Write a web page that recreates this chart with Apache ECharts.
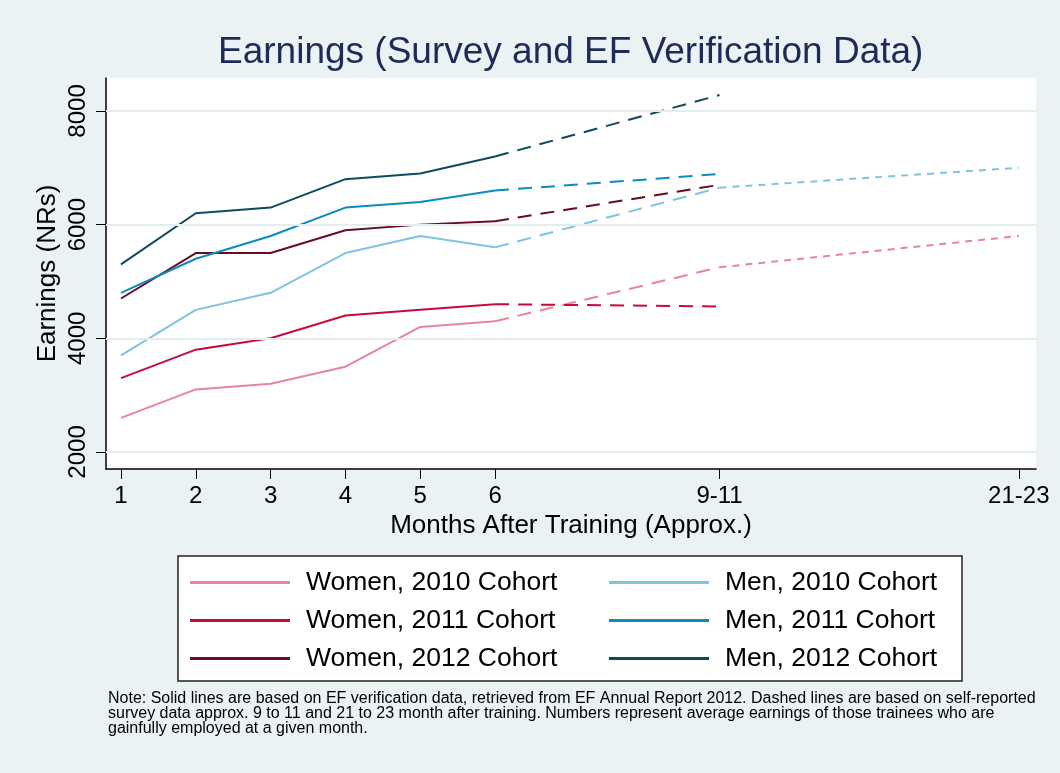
<!DOCTYPE html>
<html lang="en">
<head>
  <meta charset="UTF-8">
  <title>Earnings (Survey and EF Verification Data)</title>
  <script src="https://cdn.jsdelivr.net/npm/echarts@6.0.0/dist/echarts.min.js"></script>
  <style>
    html, body { margin: 0; padding: 0; background: #eaf2f3; }
    #chart { width: 1060px; height: 773px; }
  </style>
</head>
<body>
  <div id="chart"></div>
  <script>
    // months after training (EF verification data)
    const months = [1, 2, 3, 4, 5, 6];
    // survey rounds: 9-11 months and 21-23 months, placed at 9 and 13
    const surveyMonths = [9, 13];
    const xTickValues = [1, 2, 3, 4, 5, 6, 9, 13];
    const xTickLabels = ['1', '2', '3', '4', '5', '6', '9-11', '21-23'];
    const yTickValues = [2000, 4000, 6000, 8000];

    // solid parts (months 1..6)
    const women2010 = [2600, 3100, 3200, 3500, 4200, 4300];
    const women2011 = [3300, 3800, 4000, 4400, 4500, 4600];
    const women2012 = [4700, 5500, 5500, 5900, 6000, 6060];
    const men2010 = [3700, 4500, 4800, 5500, 5800, 5600];
    const men2011 = [4800, 5400, 5800, 6300, 6400, 6600];
    const men2012 = [5300, 6200, 6300, 6800, 6900, 7200];

    // survey values (dashed parts)
    const women2010Survey = [5250, 5800];
    const women2011Survey = [4560];
    const women2012Survey = [6700];
    const men2010Survey = [6650, 7000];
    const men2011Survey = [6890];
    const men2012Survey = [8280];

    const groups = [
      { name: 'Women, 2010 Cohort', color: '#e8849b', solid: women2010, survey: women2010Survey },
      { name: 'Women, 2011 Cohort', color: '#c80a3a', solid: women2011, survey: women2011Survey },
      { name: 'Women, 2012 Cohort', color: '#6a0a25', solid: women2012, survey: women2012Survey },
      { name: 'Men, 2010 Cohort', color: '#7ec4e1', solid: men2010, survey: men2010Survey },
      { name: 'Men, 2011 Cohort', color: '#0d8bc0', solid: men2011, survey: men2011Survey },
      { name: 'Men, 2012 Cohort', color: '#0e4a5f', solid: men2012, survey: men2012Survey }
    ];

    const font = "'Liberation Sans', Arial, Helvetica, sans-serif";

    const series = [];
    // background grid lines
    series.push({
      type: 'line',
      data: [],
      z: 1,
      silent: true,
      markLine: {
        silent: true,
        symbol: 'none',
        label: { show: false },
        lineStyle: { color: '#e3edf0', width: 2, type: 'solid' },
        data: yTickValues.map(v => ({ yAxis: v }))
      }
    });

    groups.forEach(g => {
      series.push({
        name: g.name,
        type: 'line',
        z: 3,
        symbol: 'none',
        color: g.color,
        lineStyle: { color: g.color, width: 2 },
        data: months.map((m, i) => [m, g.solid[i]])
      });
      // dashed: month 6 -> 9-11
      series.push({
        name: g.name + ' (survey)',
        type: 'line',
        z: 3,
        symbol: 'none',
        lineStyle: { color: g.color, width: 2, type: [14, 9] },
        data: [[months[months.length - 1], g.solid[g.solid.length - 1]], [surveyMonths[0], g.survey[0]]]
      });
      // short dash: 9-11 -> 21-23 (2010 cohorts only)
      if (g.survey.length > 1) {
        series.push({
          name: g.name + ' (survey 2)',
          type: 'line',
          z: 3,
          symbol: 'none',
          lineStyle: { color: g.color, width: 2, type: [7, 6] },
          data: [[surveyMonths[0], g.survey[0]], [surveyMonths[1], g.survey[1]]]
        });
      }
    });

    const legendCommon = {
      orient: 'vertical',
      top: 569,
      icon: 'rect',
      itemWidth: 100,
      itemHeight: 3,
      itemGap: 11,
      padding: 0,
      z: 5,
      selectedMode: false,
      textStyle: { fontSize: 26.5, lineHeight: 26, color: '#000', fontFamily: font, padding: [0, 0, 0, 11] }
    };

    const option = {
      backgroundColor: '#eaf2f3',
      animation: false,
      title: {
        text: 'Earnings (Survey and EF Verification Data)',
        left: 218,
        top: 34,
        padding: 0,
        textStyle: { fontSize: 37, fontWeight: 'normal', color: '#1c2b57', fontFamily: font }
      },
      grid: {
        left: 106, top: 78, right: 24, bottom: 304,
        show: true, backgroundColor: '#ffffff', borderWidth: 0
      },
      legend: [
        Object.assign({}, legendCommon, { left: 190, data: groups.slice(0, 3).map(g => g.name) }),
        Object.assign({}, legendCommon, { left: 609, data: groups.slice(3).map(g => g.name) })
      ],
      xAxis: {
        type: 'value',
        min: 0.8,
        max: 13.23,
        name: 'Months After Training (Approx.)',
        nameLocation: 'middle',
        nameGap: 43,
        nameTextStyle: { fontSize: 26, color: '#000', fontFamily: font },
        axisLine: { show: true, onZero: false, lineStyle: { color: '#000', width: 1.5 } },
        axisTick: { show: true, length: 10, customValues: xTickValues, lineStyle: { color: '#000', width: 1 } },
        axisLabel: {
          customValues: xTickValues,
          margin: 15,
          fontSize: 24,
          color: '#000',
          fontFamily: font,
          formatter: v => xTickLabels[xTickValues.indexOf(v)] || ''
        },
        splitLine: { show: false }
      },
      yAxis: {
        type: 'value',
        min: 1700,
        max: 8580,
        name: 'Earnings (NRs)',
        nameLocation: 'middle',
        nameGap: 45,
        nameMoveOverlap: false,
        nameTextStyle: { fontSize: 26, color: '#000', fontFamily: font },
        axisLine: { show: true, lineStyle: { color: '#000', width: 1.5 } },
        axisTick: { show: true, length: 10, customValues: yTickValues, lineStyle: { color: '#000', width: 1 } },
        axisLabel: {
          customValues: yTickValues,
          rotate: 90,
          margin: 16,
          fontSize: 24,
          color: '#000',
          fontFamily: font,
          formatter: v => String(v)
        },
        splitLine: { show: false }
      },
      graphic: [
        {
          type: 'rect',
          z: 0,
          shape: { x: 178, y: 556, width: 784, height: 125 },
          style: { fill: '#ffffff', stroke: '#222222', lineWidth: 1.5 }
        },
        {
          type: 'text',
          z: 1,
          left: 108,
          top: 691,
          style: {
            text: 'Note: Solid lines are based on EF verification data, retrieved from EF Annual Report 2012. Dashed lines are based on self-reported\n' +
                  'survey data approx. 9 to 11 and 21 to 23 month after training. Numbers represent average earnings of those trainees who are\n' +
                  'gainfully employed at a given month.',
            font: '16px ' + font,
            lineHeight: 15,
            fill: '#000'
          }
        }
      ],
      series: series
    };

    const chart = echarts.init(document.getElementById('chart'));
    chart.setOption(option);
  </script>
</body>
</html>
